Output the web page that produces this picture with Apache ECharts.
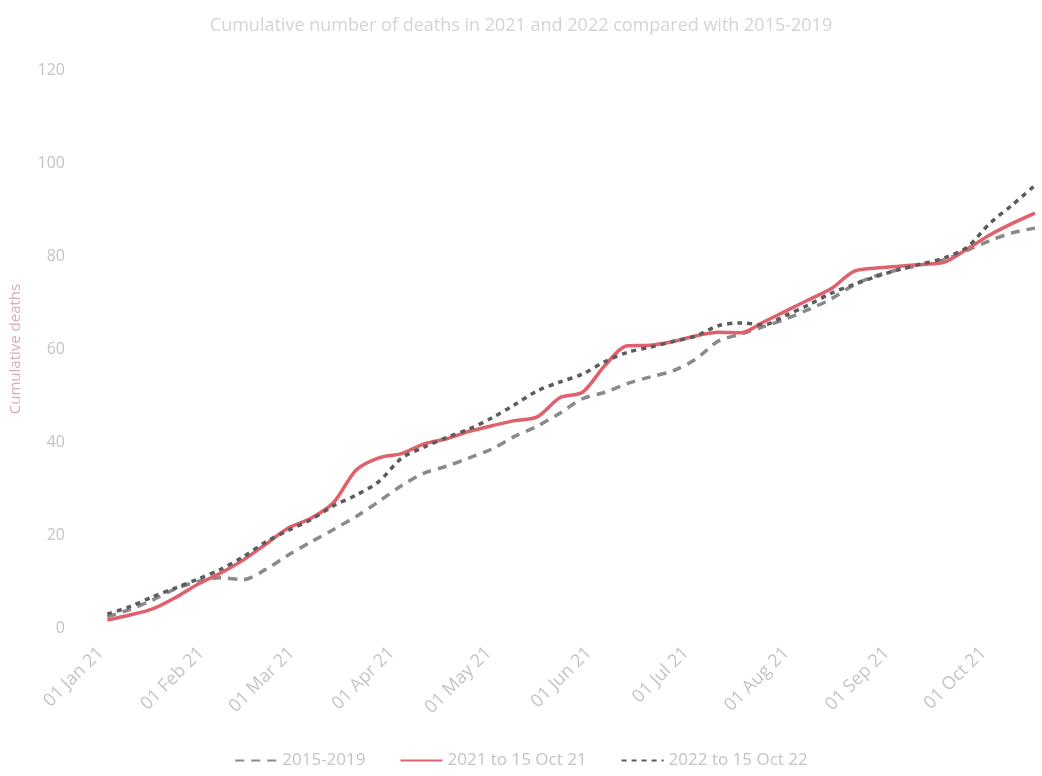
<!DOCTYPE html>
<html>
<head>
<meta charset="utf-8">
<script src="https://cdn.jsdelivr.net/npm/echarts@6/dist/echarts.min.js"></script>
<style>
  html, body { margin: 0; padding: 0; background: #fff; }
  #chart { width: 1042px; height: 776px; }
</style>
</head>
<body>
<div id="chart"></div>
<script>
// day of year 2021 (0 = 01 Jan)
const days = [2, 9, 16, 23, 30, 37, 44, 51, 58, 65, 72, 79, 86, 93, 100, 107, 114, 121, 128, 135, 142,
    149, 156, 163, 170, 177, 184, 191, 198, 205, 212, 219, 226, 233, 240, 247, 254, 261, 268, 275, 282, 289];

const avg1519 = [2.4, 4.0, 6.0, 8.4, 10.0, 10.8, 10.4, 12.6, 15.7, 18.5, 21.2, 24.0, 27.2, 30.6, 33.3, 34.8,
    36.6, 38.5, 41.2, 43.4, 46.2, 49.3, 50.7, 52.6, 54.0, 55.3, 57.8, 61.7, 63.2, 64.8, 66.5, 68.5, 70.8,
    73.8, 75.8, 77.1, 78.1, 79.2, 81.2, 83.3, 85.0, 86.0];

const y2021 = [1.7, 2.8, 4.1, 6.5, 9.4, 11.8, 14.6, 18.0, 21.5, 23.6, 27.0, 34.0, 36.6, 37.5, 39.6, 40.7,
    42.3, 43.5, 44.6, 45.4, 49.5, 50.7, 56.5, 60.7, 60.8, 61.6, 62.8, 63.6, 63.5, 65.8, 68.2, 70.6, 73.0,
    76.7, 77.4, 77.8, 78.2, 78.7, 81.5, 84.5, 87.0, 89.2];

const y2022 = [3.0, 4.6, 6.7, 8.6, 10.5, 12.6, 15.3, 18.5, 21.0, 23.3, 26.3, 28.6, 31.5, 36.5, 38.9, 41.0,
    42.8, 45.2, 48.0, 51.0, 52.9, 54.6, 57.3, 59.3, 60.4, 61.6, 62.8, 65.0, 65.6, 65.2, 67.3, 69.5, 72.0,
    73.9, 75.6, 77.1, 78.3, 79.6, 81.9, 87.0, 91.0, 95.2];

// month starts (day of year) and their labels
const monthDays = [0, 31, 59, 90, 120, 151, 181, 212, 243, 273];
const monthLabels = ['01 Jan 21', '01 Feb 21', '01 Mar 21', '01 Apr 21', '01 May 21',
    '01 Jun 21', '01 Jul 21', '01 Aug 21', '01 Sep 21', '01 Oct 21'];

const seriesNames = ['2015-2019', '2021 to 15 Oct 21', '2022 to 15 Oct 22'];

const pairs = (vals) => days.map((d, i) => [d, vals[i]]);

const chart = echarts.init(document.getElementById('chart'));

chart.setOption({
    backgroundColor: '#fff',
    animation: false,
    title: {
        text: 'Cumulative number of deaths in 2021 and 2022 compared with 2015-2019',
        left: 'center',
        top: 12,
        textStyle: { color: '#d4d4d4', fontSize: 18, fontWeight: 'normal', fontFamily: 'Open Sans' },
    },
    grid: { left: 75, right: 7, top: 70, bottom: 148, containLabel: false },
    legend: {
        bottom: 2,
        left: 'center',
        itemWidth: 42,
        itemHeight: 12,
        itemGap: 34,
        itemStyle: { opacity: 0 },
        textStyle: { color: '#c4c4c4', fontSize: 17, fontFamily: 'Open Sans' },
        data: seriesNames,
    },
    xAxis: {
        type: 'value',
        min: -8,
        max: 289,
        axisLine: { show: false },
        axisTick: { show: false },
        splitLine: { show: false },
        axisLabel: {
            customValues: monthDays,
            rotate: 45,
            margin: 22,
            color: '#c4c4c4',
            fontSize: 18,
            fontFamily: 'Open Sans',
            formatter: (v) => monthLabels[monthDays.indexOf(v)] || '',
        },
    },
    yAxis: {
        type: 'value',
        min: 0,
        max: 120,
        interval: 20,
        name: 'Cumulative deaths',
        nameLocation: 'middle',
        nameGap: 52,
        nameTextStyle: { color: '#dcaab2', fontSize: 15, fontFamily: 'Open Sans' },
        axisLine: { show: false },
        axisTick: { show: false },
        splitLine: { show: false },
        axisLabel: { color: '#c4c4c4', fontSize: 16, margin: 10, fontFamily: 'Open Sans' },
    },
    series: [
        {
            name: seriesNames[0],
            type: 'line',
            data: pairs(avg1519),
            symbol: 'none',
            smooth: 0.3,
            lineStyle: { color: '#8a8a8a', width: 3.5, type: [9, 7] },
            itemStyle: { color: '#5a5a5a' },
            z: 2,
        },
        {
            name: seriesNames[1],
            type: 'line',
            data: pairs(y2021),
            symbol: 'none',
            smooth: 0.3,
            lineStyle: { color: '#e0606c', width: 3.5 },
            itemStyle: { color: '#e0606c' },
            z: 3,
        },
        {
            name: seriesNames[2],
            type: 'line',
            data: pairs(y2022),
            symbol: 'none',
            smooth: 0.3,
            lineStyle: { color: '#5c5c5c', width: 3.5, type: [5, 5] },
            itemStyle: { color: '#4a4a4a' },
            z: 4,
        },
    ],
});
</script>
</body>
</html>
